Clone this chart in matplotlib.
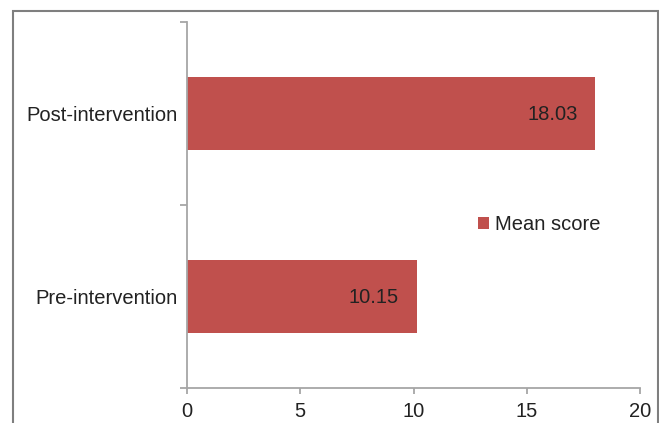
import matplotlib.pyplot as plt
from matplotlib.patches import Rectangle

# Mean scores before and after the intervention
groups = ["Pre-intervention", "Post-intervention"]
mean_scores = [10.15, 18.03]
series_name = "Mean score"
x_ticks = [0, 5, 10, 15, 20]

BAR_COLOR = "#C0504D"
AXIS_COLOR = "#A6A6A6"
TEXT_COLOR = "#222222"

plt.rcParams["font.family"] = ["Liberation Sans", "DejaVu Sans"]
plt.rcParams["font.size"] = 14.5

fig = plt.figure(figsize=(6.59, 4.23), dpi=100)
ax = fig.add_axes([187 / 659, 1 - 388 / 423, 453 / 659, 366 / 423])

pos = list(range(len(groups)))
bars = ax.barh(pos, mean_scores, height=0.40, color=BAR_COLOR, label=series_name)

# value labels sit inside the end of each bar
for rect, val in zip(bars, mean_scores):
    ax.annotate(f"{val:.2f}", xy=(rect.get_width(), rect.get_y() + rect.get_height() / 2),
                xytext=(-18, -1), textcoords="offset pixels",
                ha="right", va="center", color=TEXT_COLOR)

ax.set_xlim(x_ticks[0], x_ticks[-1])
ax.set_ylim(-0.5, len(groups) - 0.5)
ax.set_xticks(x_ticks)
ax.set_yticks(pos)
ax.set_yticklabels(groups)
# category boundary ticks on the y axis
ax.set_yticks([p - 0.5 for p in range(len(groups) + 1)], minor=True)

for side in ["top", "right"]:
    ax.spines[side].set_visible(False)
for side in ["left", "bottom"]:
    ax.spines[side].set_color(AXIS_COLOR)
    ax.spines[side].set_linewidth(1.3)

ax.tick_params(axis="x", direction="out", length=4, width=1.3, color=AXIS_COLOR,
               labelcolor=TEXT_COLOR, pad=6)
ax.tick_params(axis="y", which="major", length=0, pad=7, labelcolor=TEXT_COLOR)
ax.tick_params(axis="y", which="minor", direction="out", length=5, width=1.3, color=AXIS_COLOR)

ax.legend(loc="center left", bbox_to_anchor=(0.642, 0.447), frameon=False,
          handlelength=0.55, handleheight=0.55, handletextpad=0.3,
          borderpad=0, borderaxespad=0, labelcolor=TEXT_COLOR)

# outer frame around the chart area
fig.patches.append(Rectangle((13 / 659, -0.1), 645 / 659, 1.1 - 11 / 423,
                             transform=fig.transFigure, fill=False,
                             edgecolor="#7F7F7F", linewidth=1.5))

fig.savefig("out.png", dpi=100)
